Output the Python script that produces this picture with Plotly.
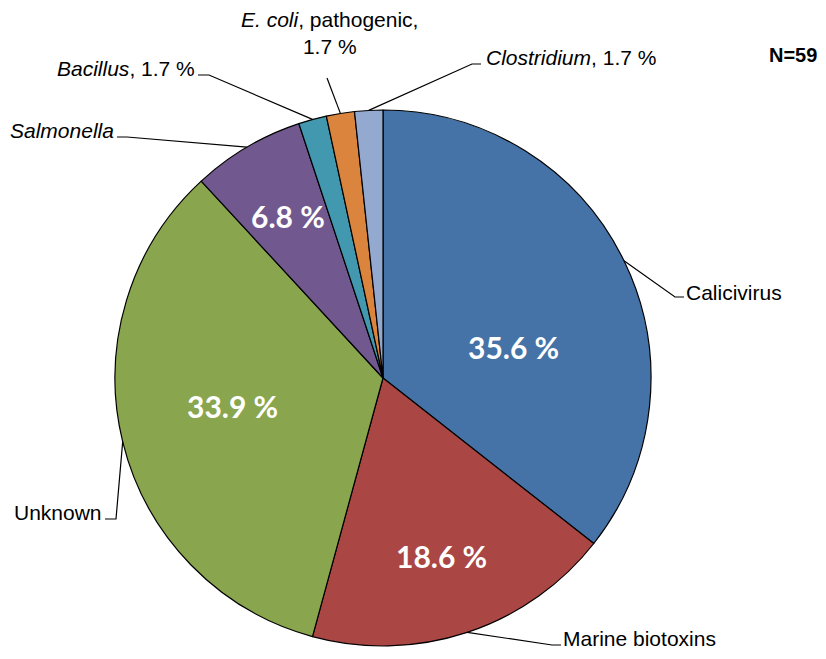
import math
import plotly.graph_objects as go

# outbreaks by causative agent, N=59
agents = ["Calicivirus", "Marine biotoxins", "Unknown", "<i>Salmonella</i>",
          "<i>Bacillus</i>, 1.7 %", "<i>E. coli</i>, pathogenic,<br>1.7 %",
          "<i>Clostridium</i>, 1.7 %"]
outbreaks = [21, 11, 20, 4, 1, 1, 1]
colors = ["#4572A7", "#AA4643", "#89A54E", "#71588F", "#4198AF", "#DB843D", "#93A9CF"]
n_label = "N=59"

# the page body has an 8px margin on every side, so the figure is shrunk to fit inside it
OFF = 8
W, H = 826 - 2 * OFF, 659 - 2 * OFF
cx, cy, R = 383 - OFF, 378 - OFF, 268

total = sum(outbreaks)

fig = go.Figure()
fig.add_trace(go.Pie(
    values=outbreaks,
    labels=agents,
    textinfo="none",
    sort=False,
    direction="clockwise",
    rotation=0,
    marker=dict(colors=colors, line=dict(color="black", width=1.2)),
    domain=dict(x=[(cx - R) / W, (cx + R) / W], y=[1 - (cy + R) / H, 1 - (cy - R) / H]),
    showlegend=False,
    hoverinfo="label+value",
))


def px(x, y):
    return x - OFF, y - OFF


# inside percentage labels: (radius fraction, angle shift in degrees) for the big slices
inside_pos = [(0.50, 12.5), (0.70, 0), (0.57, 3), (0.70, 0), None, None, None]

# outside label placement (page pixels): elbow point, line end, text anchor
label_pos = [
    dict(elbow=(675, 297), end=(684, 297), text=(686, 292), xa="left"),
    dict(elbow=(552, 645), end=(561, 645), text=(563, 638), xa="left"),
    dict(elbow=(116, 519), end=(105, 519), text=(102, 512), xa="right"),
    dict(elbow=(127, 137), end=(117, 137), text=(114, 130), xa="right"),
    dict(elbow=(209, 75), end=(198, 75), text=(195, 68), xa="right"),
    dict(elbow=None, end=(327, 78), text=(329, 33), xa="center"),
    dict(elbow=(472, 64), end=(481, 64), text=(486, 57), xa="left"),
]

cum = 0
for name, v, pos, ins in zip(agents, outbreaks, label_pos, inside_pos):
    theta = 2 * math.pi * (cum + v / 2) / total
    cum += v
    ex, ey = cx + R * math.sin(theta), cy - R * math.cos(theta)
    pts = [(ex, ey)] + ([px(*pos["elbow"])] if pos["elbow"] else []) + [px(*pos["end"])]
    path = "M " + " L ".join(f"{x:.1f},{y:.1f}" for x, y in pts)
    fig.add_shape(type="path", path=path, xref="x", yref="y",
                  line=dict(color="black", width=1.2))
    tx, ty = px(*pos["text"])
    fig.add_annotation(x=tx, y=ty, xref="x", yref="y",
                       text=name, showarrow=False, xanchor=pos["xa"], yanchor="middle",
                       borderpad=0, borderwidth=0,
                       font=dict(family="Liberation Sans", size=21, color="black"))
    if ins:
        f, shift = ins
        a = theta + math.radians(shift)
        fig.add_annotation(x=cx + f * R * math.sin(a), y=cy - f * R * math.cos(a),
                           xref="x", yref="y", text=f"<b>{v / total * 100:.1f} %</b>",
                           showarrow=False, xanchor="center", yanchor="middle",
                           font=dict(family="Lato", size=30, color="white"))

nx, ny = px(817, 55)
fig.add_annotation(x=nx, y=ny, xref="x", yref="y", text=f"<b>{n_label}</b>",
                   showarrow=False, xanchor="right", yanchor="middle",
                   borderpad=0, borderwidth=0,
                   font=dict(family="Liberation Sans", size=20, color="black"))

fig.update_layout(
    width=W, height=H,
    margin=dict(l=0, r=0, t=0, b=0),
    paper_bgcolor="white", plot_bgcolor="white",
    xaxis=dict(range=[0, W], visible=False, fixedrange=True),
    yaxis=dict(range=[H, 0], visible=False, fixedrange=True),
)

fig.write_html("out.html")
